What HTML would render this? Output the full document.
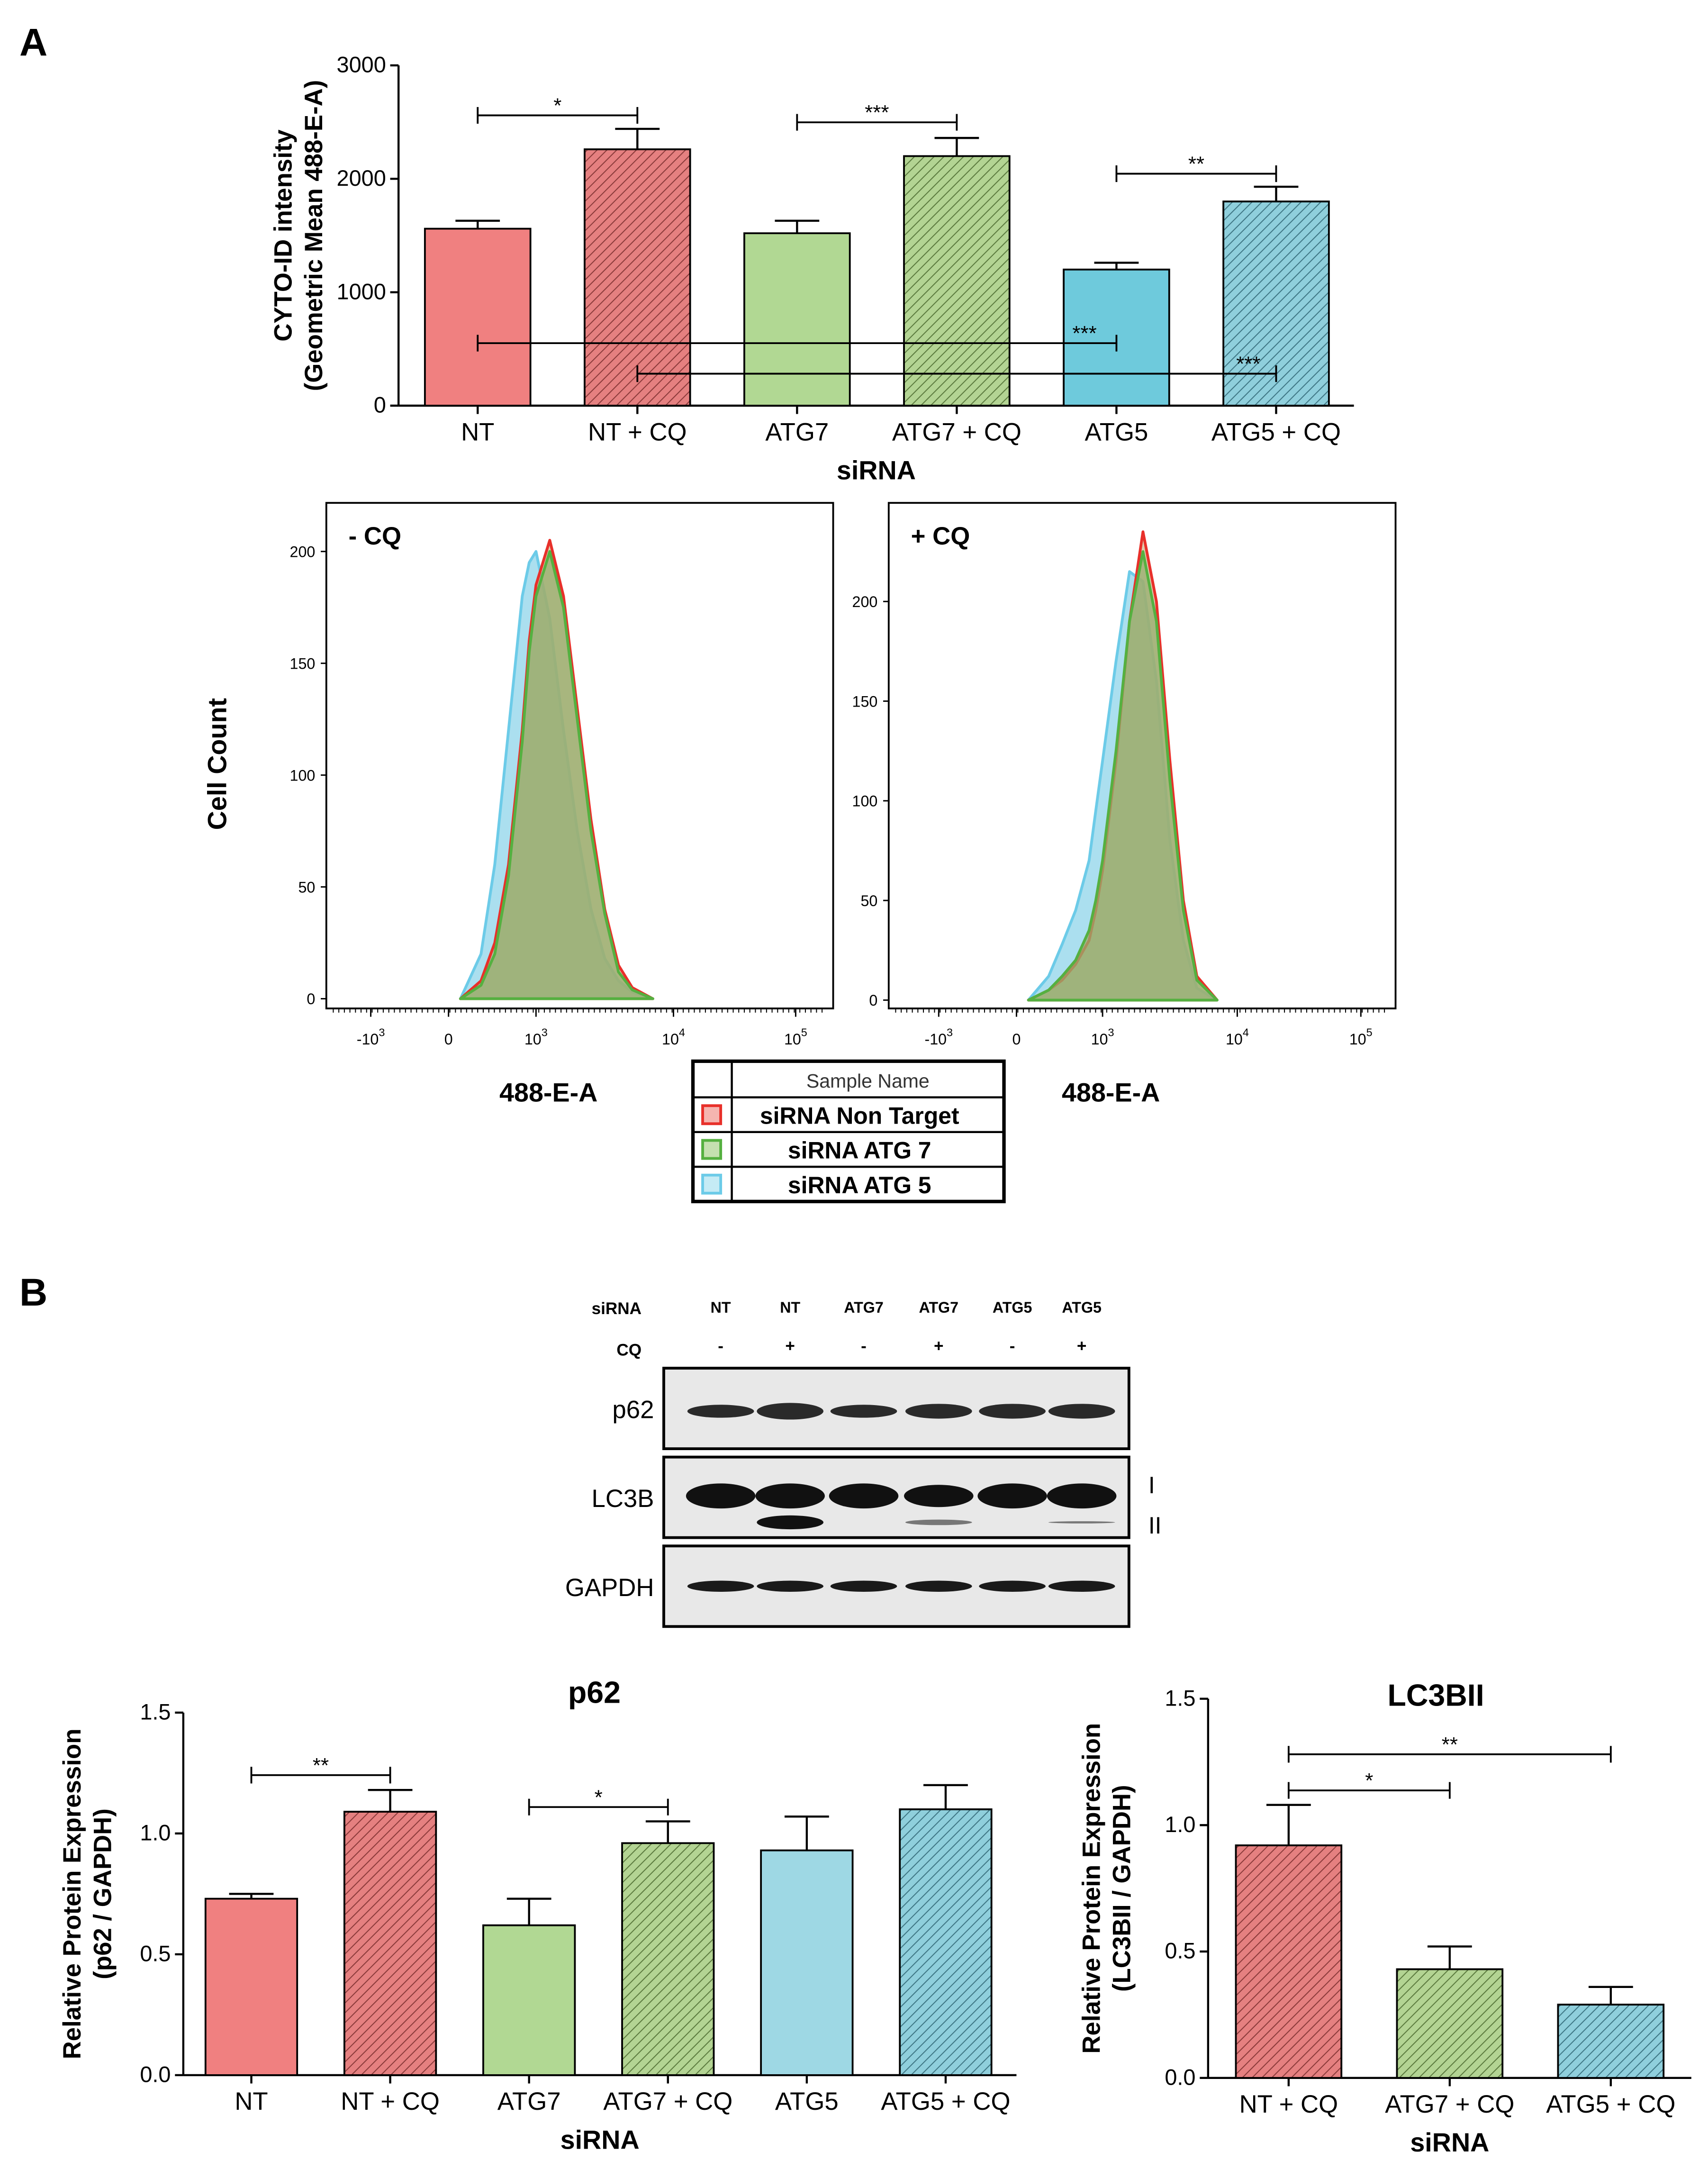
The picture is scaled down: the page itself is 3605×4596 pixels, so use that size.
<!DOCTYPE html>
<html><head><meta charset="utf-8"><style>
html,body{margin:0;padding:0;background:#fff}
svg{display:block;font-family:"Liberation Sans",Arial,sans-serif}
</style></head><body>
<svg id="fig" width="3605" height="4596" viewBox="0 0 1230 1568" xmlns="http://www.w3.org/2000/svg">
<defs>
<pattern id="hr" width="5" height="5" patternUnits="userSpaceOnUse" patternTransform="rotate(45)"><rect width="5" height="5" fill="#e58080"/><line x1="0" y1="0" x2="0" y2="5" stroke="#8a3a3a" stroke-width="1.4"/></pattern>
<pattern id="hg" width="5" height="5" patternUnits="userSpaceOnUse" patternTransform="rotate(45)"><rect width="5" height="5" fill="#b3d493"/><line x1="0" y1="0" x2="0" y2="5" stroke="#5b7a3e" stroke-width="1.4"/></pattern>
<pattern id="hb" width="5" height="5" patternUnits="userSpaceOnUse" patternTransform="rotate(45)"><rect width="5" height="5" fill="#8fcfdc"/><line x1="0" y1="0" x2="0" y2="5" stroke="#3e7684" stroke-width="1.4"/></pattern>
</defs>
<text x="14" y="40" font-size="28" font-weight="bold">A</text>
<text x="14" y="940" font-size="28" font-weight="bold">B</text>
<g id="barA"></g>
<g id="hist"></g>
<g id="blot"></g>
<g id="p62"></g>
<g id="lc3"></g>
</svg>
<script>
const catsA=["NT","NT + CQ","ATG7","ATG7 + CQ","ATG5","ATG5 + CQ"];
const valsA=[1560,2260,1520,2200,1200,1800];
const errA=[1630,2440,1630,2360,1260,1930];
const ticksA=[0,1000,2000,3000];
const catsP=["NT","NT + CQ","ATG7","ATG7 + CQ","ATG5","ATG5 + CQ"];
const valsP=[0.73,1.09,0.62,0.96,0.93,1.10];
const errP=[0.75,1.18,0.73,1.05,1.07,1.20];
const ticksP=[0.0,0.5,1.0,1.5];
const catsL=["NT + CQ","ATG7 + CQ","ATG5 + CQ"];
const valsL=[0.92,0.43,0.29];
const errL=[1.08,0.52,0.36];
// histogram data: bin position in decades (display axis), counts
const binsH=[2.45,2.6,2.7,2.8,2.9,2.95,3.0,3.1,3.2,3.3,3.4,3.5,3.6,3.7,3.85];
const ntMinus=[0,8,25,60,120,160,185,205,180,130,80,40,15,5,0];
const a7Minus=[0,6,20,55,115,155,180,200,175,125,75,38,12,4,0];
const a5Minus=[0,20,60,120,180,195,200,170,120,75,40,18,8,3,0];
const ntPlus=[0,5,10,18,30,45,65,120,190,235,200,120,50,12,0];
const a7Plus=[0,5,12,20,35,50,70,125,190,225,190,110,45,10,0];
const a5Plus=[0,12,28,45,70,95,120,170,215,210,160,80,30,6,0];

const NS="http://www.w3.org/2000/svg";
function el(p,t,a,txt){const e=document.createElementNS(NS,t);for(const k in a)e.setAttribute(k,a[k]);if(txt!=null)e.textContent=txt;p.appendChild(e);return e;}
const fills=["#f08080","url(#hr)","#b1d893","url(#hg)","#6ecadc","url(#hb)"];
const fillsP=["#f08080","url(#hr)","#b1d893","url(#hg)","#9ed8e4","url(#hb)"];

function barChart(g,o){
  const y=v=>o.y0-(v-0)/o.max*(o.y0-o.ytop);
  el(g,"line",{x1:o.x0,y1:o.ytop,x2:o.x0,y2:o.y0,stroke:"#000","stroke-width":1.5});
  el(g,"line",{x1:o.x0,y1:o.y0,x2:o.x1,y2:o.y0,stroke:"#000","stroke-width":1.5});
  o.ticks.forEach(t=>{el(g,"line",{x1:o.x0-6,y1:y(t),x2:o.x0,y2:y(t),stroke:"#000","stroke-width":1.5});
    const tl=el(g,"text",{x:o.x0-9,y:y(t)+5,"font-size":16,"text-anchor":"end"},o.fmt(t));
    });
  o.cats.forEach((c,i)=>{const cx=o.cx0+i*o.step;
    const r=el(g,"rect",{x:cx-o.w/2,y:y(o.vals[i]),width:o.w,height:o.y0-y(o.vals[i]),fill:o.fills[i],stroke:"#000","stroke-width":1.3});
    
    el(g,"line",{x1:cx,y1:y(o.vals[i]),x2:cx,y2:y(o.err[i]),stroke:"#000","stroke-width":1.5});
    el(g,"line",{x1:cx-16,y1:y(o.err[i]),x2:cx+16,y2:y(o.err[i]),stroke:"#000","stroke-width":1.5});
    el(g,"line",{x1:cx,y1:o.y0,x2:cx,y2:o.y0+6,stroke:"#000","stroke-width":1.5});
    const t=el(g,"text",{x:cx,y:o.y0+25,"font-size":18,"text-anchor":"middle"},c);
    });
  const xt=el(g,"text",{x:(o.x0+o.x1)/2,y:o.y0+53,"font-size":19,"font-weight":"bold","text-anchor":"middle"},"siRNA");
  
  const yt=el(g,"text",{transform:`translate(${o.ylx},${(o.ytop+o.y0)/2}) rotate(-90)`,"font-size":18,"font-weight":"bold","text-anchor":"middle"});
  
  o.ylab.forEach((s,k)=>el(yt,"tspan",{x:0,dy:k?22:0},s));
  o.sig.forEach(s=>{const a=o.cx0+s[0]*o.step,b=o.cx0+s[1]*o.step,yy=s[2];
    el(g,"line",{x1:a,y1:yy,x2:b,y2:yy,stroke:"#000","stroke-width":1.3});
    el(g,"line",{x1:a,y1:yy-6,x2:a,y2:yy+6,stroke:"#000","stroke-width":1.3});
    el(g,"line",{x1:b,y1:yy-6,x2:b,y2:yy+6,stroke:"#000","stroke-width":1.3});
    const st=el(g,"text",{x:s[4]!=null?s[4]:(a+b)/2,y:yy-2,"font-size":15,"text-anchor":"middle"},s[3]);
    });
}
barChart(document.getElementById("barA"),{x0:287,x1:975,y0:292,ytop:47,max:3000,ticks:ticksA,fmt:t=>String(t),cats:catsA,vals:valsA,err:errA,cx0:344,step:115,w:76,fills:fills,ylx:210,ylab:["CYTO-ID intensity","(Geometric Mean 488-E-A)"],
 sig:[[0,1,83,"*"],[2,3,88,"***"],[4,5,125,"**"],[0,4,247,"***",781],[1,5,269,"***",899]]});
barChart(document.getElementById("p62"),{x0:132,x1:732,y0:1494,ytop:1233,max:1.5,ticks:ticksP,fmt:t=>t.toFixed(1),cats:catsP,vals:valsP,err:errP,cx0:181,step:100,w:66,fills:fillsP,ylx:58,ylab:["Relative Protein Expression","(p62 / GAPDH)"],
 sig:[[0,1,1278,"**"],[2,3,1301,"*"]]});
el(document.getElementById("p62"),"text",{x:428,y:1226,"font-size":22,"font-weight":"bold","text-anchor":"middle"},"p62");
barChart(document.getElementById("lc3"),{x0:870,x1:1218,y0:1496,ytop:1223,max:1.5,ticks:ticksP,fmt:t=>t.toFixed(1),cats:catsL,vals:valsL,err:errL,cx0:928,step:116,w:76,fills:["url(#hr)","url(#hg)","url(#hb)"],ylx:792,ylab:["Relative Protein Expression","(LC3BII / GAPDH)"],
 sig:[[0,2,1263,"**"],[0,1,1289,"*"]]});
el(document.getElementById("lc3"),"text",{x:1034,y:1228,"font-size":22,"font-weight":"bold","text-anchor":"middle"},"LC3BII");

// histograms
const H=document.getElementById("hist");
function histPanel(o){
  const g=el(H,"g",{});
  el(g,"rect",{x:o.bx,y:362,width:365,height:364,fill:"#fff",stroke:"#000","stroke-width":1.3});
  const xs=d=>o.x3+(d-3)*o.dec;
  const ys=v=>o.y0-v*o.py;
  const series=[[o.blue,"#6ccbe8","rgba(150,215,235,0.8)"],[o.red,"#e8302a","rgba(200,170,120,0.6)"],[o.green,"#55b040","rgba(150,175,110,0.75)"]];
  series.forEach(([arr,stc,fc],si)=>{let d=`M${xs(binsH[0])},${ys(0)}`;arr.forEach((v,i)=>d+=` L${xs(binsH[i]).toFixed(1)},${ys(v).toFixed(1)}`);
    d+=` L${xs(binsH[binsH.length-1])},${ys(0)}`;
    const p=el(g,"path",{d:d+"Z",fill:fc,stroke:stc,"stroke-width":2,"stroke-linejoin":"round"});
    });
  o.yt.forEach(t=>{el(g,"line",{x1:o.bx-4,y1:ys(t),x2:o.bx,y2:ys(t),stroke:"#000"});
    el(g,"text",{x:o.bx-8,y:ys(t)+4,"font-size":11,"text-anchor":"end"},String(t));});
  o.xt.forEach(([x,l,s])=>{const t=el(g,"text",{x:x,y:752,"font-size":11,"text-anchor":"middle"},l);if(s)el(t,"tspan",{dy:-6,"font-size":8},s);
    el(g,"line",{x1:x,y1:726,x2:x,y2:732,stroke:"#000"});});
  for(let x=o.bx+5;x<o.bx+360;x+=4)el(g,"line",{x1:x,y1:726,x2:x,y2:729,stroke:"#000","stroke-width":0.7});
  el(g,"text",{x:o.bx+16,y:392,"font-size":18,"font-weight":"bold"},o.title);
  const xl=el(g,"text",{x:o.bx+160,y:793,"font-size":19,"font-weight":"bold","text-anchor":"middle"},"488-E-A");
  
}
histPanel({name:"histogram-minus-cq",bx:235,x3:386,dec:99,y0:719,py:1.61,title:"- CQ",blue:a5Minus,red:ntMinus,green:a7Minus,yt:[0,50,100,150,200],
 xt:[[267,"-10","3"],[323,"0"],[386,"10","3"],[485,"10","4"],[573,"10","5"]]});
histPanel({name:"histogram-plus-cq",bx:640,x3:794,dec:97,y0:720,py:1.435,title:"+ CQ",blue:a5Plus,red:ntPlus,green:a7Plus,yt:[0,50,100,150,200],
 xt:[[676,"-10","3"],[732,"0"],[794,"10","3"],[891,"10","4"],[980,"10","5"]]});
const cc=el(H,"text",{transform:"translate(163,550) rotate(-90)","font-size":19,"font-weight":"bold","text-anchor":"middle"},"Cell Count");

// legend
const L=el(H,"g",{});
el(L,"rect",{x:499,y:764,width:224,height:101,fill:"#fff",stroke:"#000","stroke-width":2.5});
el(L,"line",{x1:527,y1:764,x2:527,y2:865,stroke:"#000","stroke-width":1.5});
[790,815,840].forEach(y=>el(L,"line",{x1:499,y1:y,x2:723,y2:y,stroke:"#000","stroke-width":1.5}));
el(L,"text",{x:625,y:783,"font-size":14,"text-anchor":"middle",fill:"#333"},"Sample Name");
[["siRNA Non Target","#e8302a","#f5b5b0"],["siRNA ATG 7","#55b040","#c5e0b0"],["siRNA ATG 5","#6ccbe8","#c5ebf5"]].forEach(([t,s,f],i)=>{
  const y=803+i*25;el(L,"rect",{x:506,y:y-7,width:13,height:13,fill:f,stroke:s,"stroke-width":2});
  const e=el(L,"text",{x:619,y:y+6,"font-size":17,"font-weight":"bold","text-anchor":"middle"},t);
  });

// blot
const B=document.getElementById("blot");
const lanes=[519,569,622,676,729,779];
const lab1=["NT","NT","ATG7","ATG7","ATG5","ATG5"],lab2=["-","+","-","+","-","+"];
el(B,"text",{x:462,y:946,"font-size":12,"font-weight":"bold","text-anchor":"end"},"siRNA");
el(B,"text",{x:462,y:976,"font-size":12,"font-weight":"bold","text-anchor":"end"},"CQ");
lanes.forEach((x,i)=>{el(B,"text",{x:x,y:945,"font-size":11,"font-weight":"bold","text-anchor":"middle"},lab1[i]);
  el(B,"text",{x:x,y:973,"font-size":12,"font-weight":"bold","text-anchor":"middle"},lab2[i]);});
const p62w=[4,6,4,5,5,5],lc1=[9,9,9,8,9,9],lc2=[0,5,0,2,0,0.8],gap=[4,4,4,4,4,4];
[[985,"p62"],[1049,"LC3B"],[1113,"GAPDH"]].forEach(([y,n],k)=>{
  const r=el(B,"rect",{x:478,y:y,width:335,height:58,fill:"#e8e8e8",stroke:"#000","stroke-width":2});
  
  el(B,"text",{x:471,y:y+36,"font-size":18,"text-anchor":"end"},n);
  lanes.forEach((x,i)=>{
    if(k==0)el(B,"ellipse",{cx:x,cy:y+31,rx:24,ry:p62w[i]/1.5+2,fill:"#2a2a2a"});
    if(k==1){el(B,"ellipse",{cx:x,cy:y+28,rx:25,ry:lc1[i],fill:"#111"});
      const v=lc2[i];
      if(v>0)el(B,"ellipse",{cx:x,cy:y+47,rx:24,ry:v,fill:v>3?"#111":"#777"});}
    if(k==2)el(B,"ellipse",{cx:x,cy:y+29,rx:24,ry:gap[i],fill:"#1a1a1a"});
  });
});
el(B,"text",{x:827,y:1075,"font-size":17},"I");
el(B,"text",{x:827,y:1104,"font-size":17},"II");
</script>
</body></html>
